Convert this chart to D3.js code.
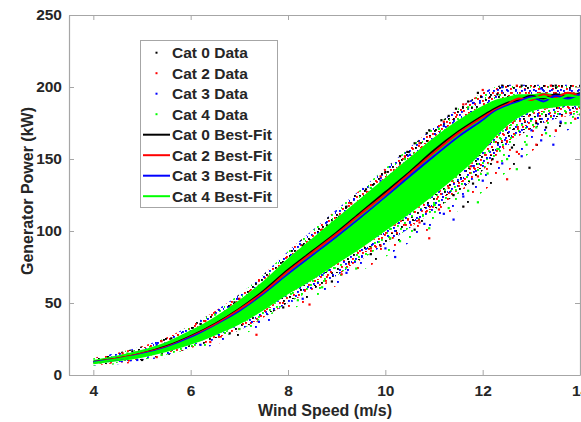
<!DOCTYPE html>
<html><head><meta charset="utf-8">
<script src="https://cdn.jsdelivr.net/npm/d3@7"></script>
<style>html,body{margin:0;padding:0;background:#fff;overflow:hidden}</style>
</head><body>
<svg id="c" width="581" height="422"></svg>
<script>
// ---- data ----
const xTicks = [4, 6, 8, 10, 12, 14];
const yTicks = [0, 50, 100, 150, 200, 250];
const categories = ["Cat 0", "Cat 2", "Cat 3", "Cat 4"];
const colors = ["#000000", "#ff0000", "#0000ff", "#00ff00"];
const windGrid = [4,4.5,5,5.5,6,6.5,7,7.5,8,8.5,9,9.5,10,10.5,11,11.5,12,12.25,12.5,12.75,13,13.25,13.5,13.75,14];
const fitCat0 = [9,11.5,15,20,27,35.5,46,58.5,73,86,99,113,127,141,156,169,180,185,189,191,194,192,195,193,196];
const fitCat2 = [9,11.5,15,19.5,26.5,35,45.5,57.5,72,85,98,112,125.5,140,154.5,168,179,184,188,192,191,195,193,196,194];
const fitCat3 = [9,11,14.5,19,26,34,44,56,70,83,96,109.5,123.5,138,152,165.5,177,183,187,190,193,190,194,192,195];
const fitCat4 = [8.5,11,14,18.5,25,33.5,43,55,68.5,81.5,94.5,108,122,136,150,163.5,175.5,182,186,189,192,193,191,194,193];
// envelopes of the point cloud (dense solid core, dense fringe, sparse outer fringe)
const coreUpper   = [10.5,13.5,17.5,23,31,40.5,52,65.5,81,95,109,123,137,151,165,177,187,191,193,195,195,196,195,196,196];
const coreLower   = [7.5,9.5,12,16,21,27.5,35,45,56,66,77,88,100,112,125,139,155,165,173,179,183,185,186,187,187];
const fringeUpper = [12,15.5,20,26,34.5,44.5,56,70,86,100.5,115,129,143.5,158,172,185,196,200,201.5,201.5,201.5,201.5,201.5,201.5,201.5];
const denseLower  = [6.5,8.5,10.5,14,18.5,24.5,31,40,50,59,69,80,91,102,114,127,142,151,159,166,171,175,178,180,181];
const sparseLower = [6,7.5,9,12,16,21,27,35,44,53,62,72,82,92,103,114,127,134,141,148,155,161,166,170,173];
// individual scattered data points [wind, power]
const cat0Pts = [[4.3,12.5],[4.8,16.5],[5.6,25.5],[6.2,35.5],[6.9,50.5],[7.4,62],[7.9,76],[8.3,90],[8.8,104],[9.2,117],[9.6,129],[10.0,141],[10.3,152],[10.6,161],[10.9,170],[11.3,180],[11.7,190],[11.9,196],[12.4,201],[12.8,201],[13.5,201],[5.0,10.5],[6.8,29],[7.9,47],[8.9,65],[9.7,84],[10.6,101],[11.4,125],[11.8,133],[12.2,150],[12.6,158],[12.96,144],[13.1,175],[13.6,175],[13.3,172],[11.6,117],[10.45,155],[9.05,110],[12.3,195],[10.85,168],[11.15,177],[11.45,185]];
const cat2Pts = [[4.6,15],[5.4,23.5],[6.3,37.5],[7.0,53],[7.6,68.5],[8.2,86],[8.7,101],[9.3,119],[9.9,138],[10.4,152],[10.7,161],[11.2,176],[11.6,188],[12.0,198],[12.7,201],[13.4,201],[5.3,12.5],[6.4,23],[7.35,28],[8.44,49],[9.1,70],[9.9,90],[10.7,106],[11.1,115],[11.9,138],[12.3,148],[12.7,155],[13.1,160],[13.5,170],[13.9,178],[12.5,136],[10.9,95],[11.3,130],[10.5,118],[12.1,160],[9.7,88],[11.75,145],[13.8,182]];
const cat3Pts = [[4.4,12],[5.3,21],[6.0,30.5],[6.8,47],[7.5,64],[8.0,78.5],[8.7,98],[9.3,116],[9.9,135],[10.5,153],[11.2,173],[11.8,189],[12.4,200],[13.2,199],[4.9,10.5],[6.2,21],[7.4,37],[8.3,53],[9.2,71],[10.0,88],[10.8,105],[11.2,112],[11.6,124],[12.0,135],[12.4,147],[12.8,152],[13.2,163],[13.6,176],[10.2,82],[11.4,108],[11.9,150],[12.2,165],[12.75,181],[13.0,170],[13.45,160]];
const cat4Pts = [[4.7,15],[6.5,42],[7.2,56],[8.1,83],[8.9,106],[9.7,130],[10.4,150],[11.1,171],[11.7,186],[5.4,14],[7.0,32],[8.2,52],[8.7,61],[9.4,74],[10.3,93],[10.9,102],[11.3,116],[11.7,128],[12.1,140],[12.5,150],[12.9,160],[13.3,168],[13.7,175],[14.0,181],[11.9,120],[12.7,143],[11.0,118],[10.1,95],[12.3,157],[13.1,172]];

// ---- layout ----
const M = {left: 69, right: 580, top: 15, bottom: 375};
const svg = d3.select("#c");
const x = d3.scaleLinear().domain([3.5, 14]).range([M.left, M.right]);
const y = d3.scaleLinear().domain([0, 250]).range([M.bottom, M.top]);
const axisCol = "#a6a6a6", textCol = "#262626";
const font = "Liberation Sans, Arial, sans-serif";

// speckle patterns (styling of the dense point cloud)
const defs = svg.append("defs");
function makePattern(id, w, h, dots, sz) {
  const p = defs.append("pattern").attr("id", id).attr("patternUnits", "userSpaceOnUse")
    .attr("width", w).attr("height", h);
  dots.forEach(d => p.append("rect").attr("x", d[0]).attr("y", d[1]).attr("width", sz).attr("height", sz).attr("fill", colors[d[2]]));
}
makePattern("dense", 16, 14, [[1,2,0],[5,0,1],[9,3,2],[13,1,3],[3,6,2],[7,8,1],[11,6,0],[15,9,2],[0,10,1],[4,12,3],[9,11,2],[13,13,1],[6,4,3],[12,9,0],[2,8,3],[10,0,1]], 1.9);
makePattern("dense2", 11, 13, [[2,1,2],[7,3,1],[4,7,3],[9,9,2],[0,11,1],[6,12,0]], 1.9);
makePattern("upper", 14, 12, [[1,2,1],[5,0,2],[9,3,0],[12,1,1],[3,6,2],[7,8,1],[11,6,2],[0,10,0],[4,11,1],[9,10,3],[6,4,1],[13,8,2]], 1.9);
makePattern("upper2", 9, 11, [[2,1,2],[6,4,1],[3,8,0],[8,9,3]], 1.9);
makePattern("sparse", 23, 19, [[2,3,2],[12,1,1],[18,8,3],[7,11,0],[15,15,2],[3,16,1],[20,2,3]], 1.9);

const plot = svg.append("g");
const env = windGrid.map((w, i) => ({w, cu: coreUpper[i], cl: coreLower[i], fu: fringeUpper[i], dl: denseLower[i], sl: sparseLower[i]}));
const area = (lo, hi) => d3.area().curve(d3.curveMonotoneX).x(d => x(d.w)).y0(d => y(d[lo])).y1(d => y(d[hi]));
plot.append("path").datum(env).attr("d", area("sl", "dl")).attr("fill", "url(#sparse)");
plot.append("path").datum(env).attr("d", area("dl", "cl")).attr("fill", "url(#dense)");
plot.append("path").datum(env).attr("d", area("dl", "cl")).attr("fill", "url(#dense2)");
plot.append("path").datum(env).attr("d", area("cu", "fu")).attr("fill", "url(#upper)");
plot.append("path").datum(env).attr("d", area("cu", "fu")).attr("fill", "url(#upper2)");

[cat0Pts, cat2Pts, cat3Pts].forEach((pts, k) => {
  plot.append("g").selectAll("rect").data(pts).join("rect")
    .attr("x", d => x(d[0]) - 1).attr("y", d => y(d[1]) - 1)
    .attr("width", 2.2).attr("height", 2.2).attr("fill", colors[k]);
});
plot.append("path").datum(env).attr("d", area("cl", "cu")).attr("fill", colors[3]);
plot.append("g").selectAll("rect").data(cat4Pts).join("rect")
  .attr("x", d => x(d[0]) - 1).attr("y", d => y(d[1]) - 1)
  .attr("width", 2.2).attr("height", 2.2).attr("fill", colors[3]);

const fits = [fitCat0, fitCat2, fitCat3, fitCat4];
const line = d3.line().curve(d3.curveMonotoneX).x(d => x(d[0])).y(d => y(d[1]));
fits.forEach((f, k) => {
  plot.append("path").datum(windGrid.map((w, i) => [w, f[i]]))
    .attr("d", line).attr("fill", "none").attr("stroke", colors[k]).attr("stroke-width", 2);
});

// ---- axes ----
const ax = svg.append("g");
const fmt = d3.format("d");
const gx = ax.append("g").attr("transform", `translate(0,${M.bottom})`)
  .call(d3.axisBottom(x).tickValues(xTicks).tickSizeInner(-5).tickSizeOuter(0).tickPadding(10).tickFormat(fmt));
const gy = ax.append("g").attr("transform", `translate(${M.left},0)`)
  .call(d3.axisLeft(y).tickValues(yTicks).tickSizeInner(-5).tickSizeOuter(0).tickPadding(7).tickFormat(fmt));
const gxt = ax.append("g").attr("transform", `translate(0,${M.top})`)
  .call(d3.axisTop(x).tickValues(xTicks).tickSizeInner(-5).tickSizeOuter(0).tickFormat(""));
const gyr = ax.append("g").attr("transform", `translate(${M.right},0)`)
  .call(d3.axisRight(y).tickValues(yTicks).tickSizeInner(-5).tickSizeOuter(0).tickFormat(""));
[gx, gy, gxt, gyr].forEach(g => {
  g.selectAll("path").attr("stroke", axisCol).attr("stroke-width", 1.2);
  g.selectAll("line").attr("stroke", axisCol);
  g.selectAll("text").attr("fill", textCol).style("font-family", font)
    .style("font-size", "15.5px").style("font-weight", "bold");
});

svg.append("text").attr("x", 325).attr("y", 416).attr("text-anchor", "middle")
  .attr("fill", textCol).style("font-family", font).style("font-size", "16px").style("font-weight", "bold")
  .text("Wind Speed (m/s)");
svg.append("text").attr("transform", "translate(33,191) rotate(-90)").attr("text-anchor", "middle")
  .attr("fill", textCol).style("font-family", font).style("font-size", "16px").style("font-weight", "bold")
  .text("Generator Power (kW)");

// ---- legend ----
const leg = svg.append("g");
leg.append("rect").attr("x", 140.5).attr("y", 40.5).attr("width", 137).attr("height", 167)
  .attr("fill", "#fff").attr("stroke", axisCol).attr("stroke-width", 1);
const items = [];
categories.forEach((c, k) => items.push({label: c + " Data", type: "pt", col: colors[k]}));
categories.forEach((c, k) => items.push({label: c + " Best-Fit", type: "ln", col: colors[k]}));
items.forEach((it, i) => {
  const yy = 52.7 + i * 20.5;
  if (it.type === "pt") {
    leg.append("rect").attr("x", 155.5).attr("y", yy - 1).attr("width", 2).attr("height", 2).attr("fill", it.col);
  } else {
    leg.append("line").attr("x1", 143).attr("x2", 170).attr("y1", yy).attr("y2", yy)
      .attr("stroke", it.col).attr("stroke-width", 2);
  }
  leg.append("text").attr("x", 172).attr("y", yy + 5.5).attr("fill", textCol)
    .style("font-family", font).style("font-size", "15.5px").style("font-weight", "bold").text(it.label);
});
</script>
</body></html>
